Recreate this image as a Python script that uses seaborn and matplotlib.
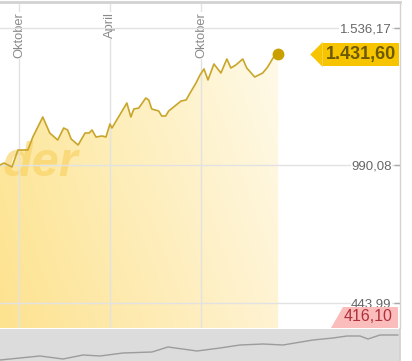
import matplotlib
matplotlib.use("Agg")
import numpy as np
import pandas as pd
import seaborn as sns
import matplotlib.pyplot as plt
import matplotlib.dates as mdates
import matplotlib.transforms as mtransforms
from matplotlib.patches import Polygon

# ---------------- data ----------------
dates = ["2009-08-23", "2009-08-31", "2009-09-16", "2009-09-28", "2009-10-18",
         "2009-10-28", "2009-11-17", "2009-12-01", "2009-12-17", "2009-12-29",
         "2010-01-06", "2010-01-13", "2010-01-27", "2010-02-10", "2010-02-18",
         "2010-02-24", "2010-03-04", "2010-03-16", "2010-03-24", "2010-04-01",
         "2010-04-05", "2010-05-05", "2010-05-13", "2010-05-19", "2010-05-29",
         "2010-06-12", "2010-06-18", "2010-06-24", "2010-07-08", "2010-07-14",
         "2010-07-22", "2010-07-28", "2010-08-22", "2010-09-01", "2010-09-09",
         "2010-09-21", "2010-09-29", "2010-10-07", "2010-10-15", "2010-10-27",
         "2010-11-10", "2010-11-22", "2010-11-30", "2010-12-10", "2010-12-24",
         "2011-01-01", "2011-01-17", "2011-02-02", "2011-02-12", "2011-02-24",
         "2011-03-05"]
prices = [991.5, 999.4, 983.5, 1051.1, 1051.1,
          1102.8, 1182.3, 1118.7, 1090.8, 1138.6,
          1130.6, 1094.8, 1071.0, 1118.7, 1118.7,
          1130.6, 1102.8, 1106.8, 1102.8, 1154.5,
          1138.6, 1237.9, 1182.3, 1214.1, 1218.1,
          1257.9, 1249.9, 1214.1, 1206.2, 1186.3,
          1186.3, 1206.2, 1245.9, 1249.9, 1277.7,
          1317.5, 1349.3, 1373.3, 1329.4, 1393.0,
          1357.2, 1412.9, 1377.1, 1389.1, 1412.9,
          1377.1, 1341.3, 1357.2, 1381.1, 1420.9,
          1431.6]

y_ticks = [443.99, 990.08, 1536.17]
month_ticks = ["2009-10-01", "2010-04-01", "2010-10-01"]
month_labels = ["Oktober", "April", "Oktober"]
last_label = "1.431,60"
low_label = "416,10"
watermark = "der"

# navigator (long-term overview series)
nav_years = [2001.0, 2002.0, 2002.575, 2003.075, 2003.5, 2004.075, 2004.8, 2005.2,
             2005.925, 2006.5, 2007.0, 2007.575, 2008.075, 2008.825, 2009.325,
             2009.675, 2010.0, 2010.2, 2010.5, 2010.95]
nav_values = [1, 5, 2, 6, 5, 8, 9, 14, 10, 13, 16, 17, 16, 21, 23, 25, 25, 22, 26, 26]


def de_fmt(v):
    s = f"{v:,.2f}"
    return s.replace(",", "X").replace(".", ",").replace("X", ".")


# ---------------- style ----------------
sns.set_theme(style="white")
plt.rcParams["font.family"] = ["Liberation Sans", "DejaVu Sans"]

W, H = 412, 361
fig = plt.figure(figsize=(W / 100, H / 100), dpi=100)
fig.patch.set_facecolor("white")
ax = fig.add_axes([0, 1 - 328 / H, 400 / W, 326 / H])
nav = fig.add_axes([0, 0, 400 / W, 32 / H])

df = pd.DataFrame({"date": pd.to_datetime(dates), "price": prices})
ymin, ymax = 343.4, 1639.5
xlim = (pd.Timestamp("2009-08-23"), pd.Timestamp("2011-11-05"))

# main line
sns.lineplot(data=df, x="date", y="price", ax=ax, color="#c9a52a",
             linewidth=1.2, zorder=4, legend=False)
ax.plot(df["date"].iloc[-1], prices[-1], "o", color="#c9a000",
        markersize=7.5, zorder=5)

# gradient fill under the line
fb = ax.fill_between(df["date"], prices, ymin, facecolor="none",
                     edgecolor="none", zorder=1)
xnum = mdates.date2num(df["date"])
nx, ny = 200, 100
tx = np.linspace(0, 1, nx)[None, :, None]
ty = np.linspace(0, 1, ny)[:, None, None]
bl = np.array([253, 226, 143]) / 255
tl = np.array([253, 233, 162]) / 255
br = np.array([255, 243, 210]) / 255
tr = np.array([255, 250, 233]) / 255
bottom = bl * (1 - tx) + br * tx
top = tl * (1 - tx) + tr * tx
grad = bottom * (1 - ty) + top * ty
im = ax.imshow(grad, extent=[xnum[0], xnum[-1], ymin, max(prices)],
               aspect="auto", origin="lower", zorder=1, interpolation="bilinear")
im.set_clip_path(fb.get_paths()[0], transform=ax.transData)

# watermark
ax.text(0.195, 0.505, watermark, transform=ax.transAxes, ha="right", va="center",
        fontsize=35, fontweight="bold", fontstyle="italic", color="#f7cf5c",
        alpha=0.6, zorder=1.2, clip_on=True)

ax.set_xlim(xlim)
ax.set_ylim(ymin, ymax)

# grid
ax.set_axisbelow("line")
ax.set_yticks(y_ticks)
ax.set_xticks(pd.to_datetime(month_ticks))
ax.grid(True, color="#e2e2e2", linewidth=1)

# y tick labels: right side, inside
ax.yaxis.tick_right()
ax.set_yticklabels([de_fmt(v) for v in y_ticks])
ax.tick_params(axis="y", direction="in", length=4, width=1, color="#aaaaaa",
               pad=-6, labelsize=9.5, labelcolor="#666666")
for lab in ax.get_yticklabels():
    lab.set_horizontalalignment("right")
    lab.set_bbox(dict(facecolor="white", edgecolor="none", pad=0.5))

# x tick labels: top, rotated, inside
ax.xaxis.tick_top()
ax.set_xticklabels(month_labels)
ax.tick_params(axis="x", length=0, pad=-7.5, labelsize=9.3,
               labelcolor="#8a8a8a", rotation=90)
for lab in ax.get_xticklabels():
    lab.set_verticalalignment("top")
    lab.set_horizontalalignment("center")
    lab.set_bbox(dict(facecolor="white", edgecolor="none", pad=0.5))
ax.set_xlabel("")
ax.set_ylabel("")

for s in ["left", "bottom"]:
    ax.spines[s].set_visible(False)
ax.spines["top"].set_color("#d2d2d2")
ax.spines["top"].set_linewidth(2)
ax.spines["right"].set_color("#d2d2d2")
ax.spines["right"].set_linewidth(1)

# last value label (yellow)
blend = mtransforms.blended_transform_factory(ax.transAxes, ax.transData)
ax.text(0.99, prices[-1], last_label, transform=blend, ha="right", va="center",
        fontsize=13, fontweight="bold", color="#6d5900", zorder=7,
        bbox=dict(boxstyle="square,pad=0.18", facecolor="#f7c500", edgecolor="none"))
ax.plot(0.789, prices[-1], transform=blend, marker=[(-0.5, 0), (0.5, 1), (0.5, -1)],
        markersize=18, color="#f7c500", markeredgewidth=0, zorder=6, clip_on=False)

# low value label (red)
ax.add_patch(Polygon([(0.8275, 0.0), (0.8575, 0.0644), (0.995, 0.0644), (0.995, 0.0)],
                     closed=True, transform=ax.transAxes, facecolor="#fbbcbc",
                     edgecolor="none", zorder=6))
ax.text(0.9825, 0.034, low_label, transform=ax.transAxes, ha="right", va="center",
        fontsize=11.5, color="#b0303a", zorder=7)

# navigator
nav.set_facecolor("#dcdcdc")
sns.lineplot(x=nav_years, y=nav_values, ax=nav, color="#9c9c9c", linewidth=1)
nav.set_xlim(2001, 2011)
nav.set_ylim(0, 32)
nav.set_xticks([])
nav.set_yticks([])
for s in ["left", "bottom", "top"]:
    nav.spines[s].set_visible(False)
nav.spines["right"].set_color("#d2d2d2")

fig.savefig("out.png", dpi=100, facecolor="white")
